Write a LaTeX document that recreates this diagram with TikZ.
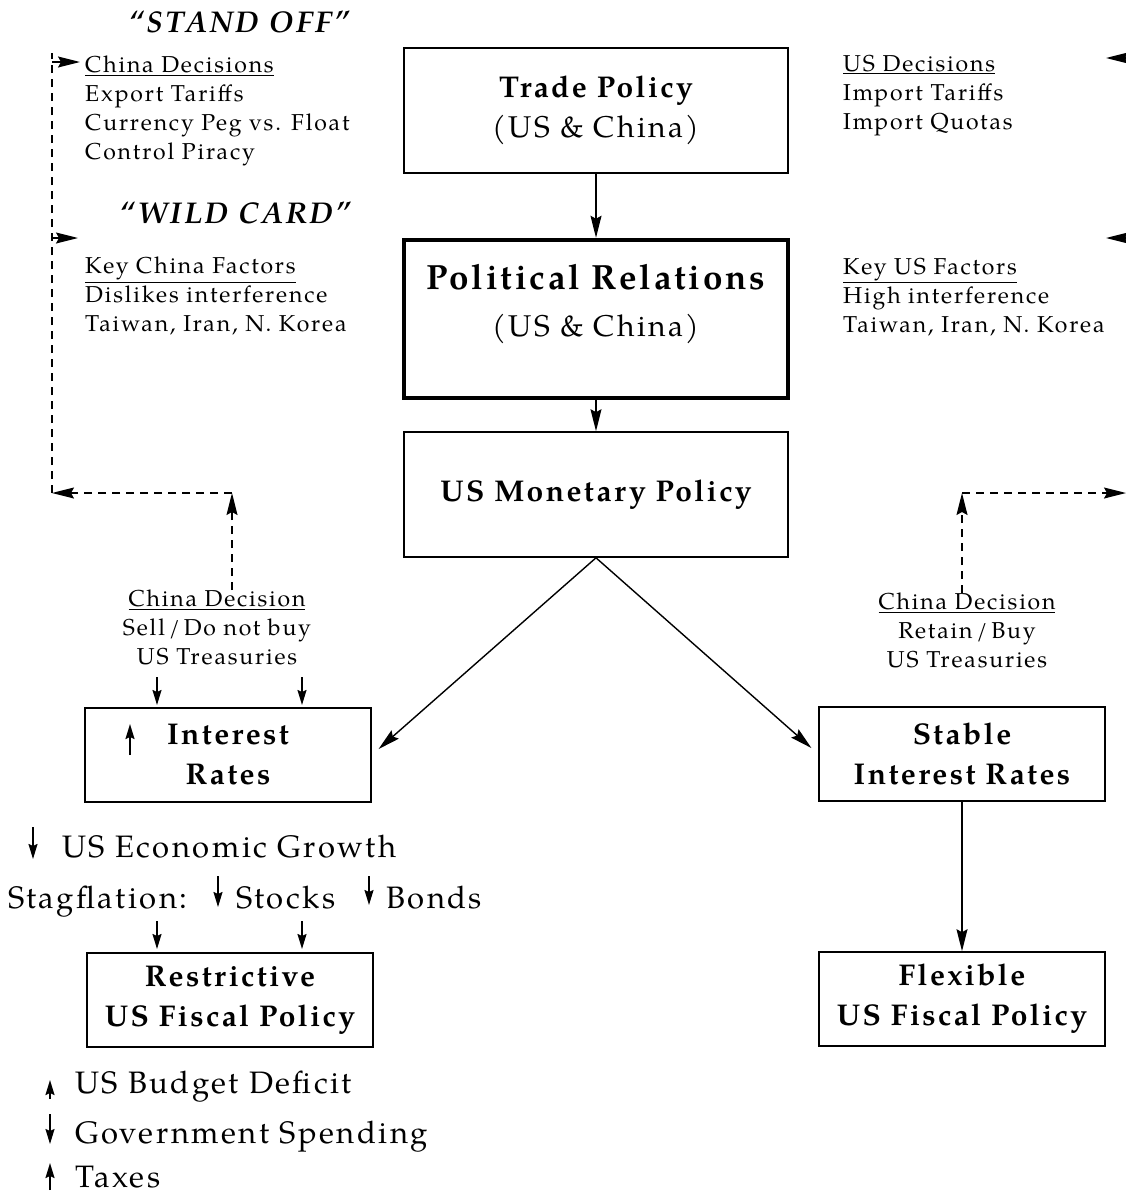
\documentclass[tikz,border=0pt]{standalone}
\usepackage{fontspec}
\setmainfont{TeX Gyre Pagella}[LetterSpace=8]
\usepackage{tikz}
\usetikzlibrary{positioning,arrows.meta,calc}

\newcommand{\sidefont}{\fontsize{23}{29}\selectfont}
\newcommand{\boxfont}{\fontsize{30}{40}\selectfont\bfseries}
\newcommand{\notefont}{\fontsize{31}{36}\selectfont}
\newcommand{\titlefont}{\fontsize{30}{34}\selectfont\bfseries\itshape}

\begin{document}
\begin{tikzpicture}[x=1pt, y=-1pt,
        bigbox/.style={draw, line width=1.6pt, align=center, minimum width=384pt, minimum height=125pt, inner sep=0pt, font=\boxfont},
        smallbox/.style={bigbox, minimum width=286pt, minimum height=94pt},
        side/.style={align=left, inner sep=0pt, anchor=north west, font=\sidefont},
        dec/.style={align=center, inner sep=0pt, anchor=north, font=\sidefont},
        note/.style={inner sep=0pt, anchor=base west, font=\notefont},
        title/.style={inner sep=0pt, anchor=base, font=\titlefont},
        conn/.style={-{Stealth[length=22pt,width=11pt,inset=3pt]}, line width=1.4pt},
        dashline/.style={line width=1.4pt, dash pattern=on 8pt off 6pt},
        dashconn/.style={conn, dash pattern=on 8pt off 6pt},
        updn/.style={-{Stealth[length=15pt,width=9pt,inset=2pt]}, line width=1.6pt}
    ]
    \useasboundingbox (0,0) rectangle (1126,1194);

    \node[bigbox] (tp) at (596,110.5) {Trade Policy\\{\mdseries (US \& China)}};
    \node[bigbox, line width=4.5pt, minimum height=158pt, text depth=38pt] (pr) at (596,319) {{\fontsize{35}{40}\selectfont Political Relations}\\[7pt]{\mdseries (US \& China)}};
    \node[bigbox] (mp) at (596,494.5) {US Monetary Policy};

    \node[smallbox] (ir) at (228,755) {Interest\\Rates};
    \node[smallbox] (sir) at (962,754) {Stable\\Interest Rates};
    \node[smallbox] (rfp) at (230,1000) {Restrictive\\US Fiscal Policy};
    \node[smallbox] (ffp) at (962,999) {Flexible\\US Fiscal Policy};

    \node[title] (so) at (239,32) {“STAND OFF”};
    \node[title] (wc) at (235,223) {“WILD CARD”};

    \node[side] (cdec) at (85,56) {\underline{China Decisions}\\Export Tariffs\\Currency Peg vs. Float\\Control Piracy};
    \node[side] (cfac) at (85,257) {\underline{Key China Factors}\\Dislikes interference\\Taiwan, Iran, N. Korea};
    \node[side] (udec) at (843,55) {\underline{US Decisions}\\Import Tariffs\\Import Quotas};
    \node[side] (ufac) at (843,258) {\underline{Key US Factors}\\High interference\\Taiwan, Iran, N. Korea};

    \node[dec] (cdl) at (217,590) {\underline{China Decision}\\Sell\,/\,Do not buy\\US Treasuries};
    \node[dec] (cdr) at (967,593) {\underline{China Decision}\\Retain\,/\,Buy\\US Treasuries};

    \node[note] (grow) at (62,857) {US Economic Growth};
    \node[note] (stag) at (8,908) {Stagflation:};
    \node[note] (stk) at (236,908) {Stocks};
    \node[note] (bnd) at (386,908) {Bonds};
    \node[note] (def) at (75,1093) {US Budget Deficit};
    \node[note] (gov) at (75,1143) {Government Spending};
    \node[note] (tax) at (75,1187) {Taxes};

    \coordinate (lcorner) at (232,493);
    \coordinate (lbend) at (52,493);
    \coordinate (ltop) at (52,53);
    \coordinate (la) at (52,62);
    \coordinate (lb) at (52,238);
    \coordinate (rcorner) at (962,493);
    \coordinate (rend) at (1126,493);
    \coordinate (ra) at (1126,58);
    \coordinate (rb) at (1126,238);

    \draw[conn] (tp) -- (pr);
    \draw[conn] (pr) -- (mp);
    \draw[conn, shorten >=9pt] (mp.south) -- (ir.east);
    \draw[conn, shorten >=9pt] (mp.south) -- (sir.west);
    \draw[conn] (sir) -- (ffp);

    \draw[dashconn] (cdl.north -| lcorner) -- (lcorner);
    \draw[dashconn] (lcorner) -- (lbend);
    \draw[dashline] (lbend) -- (ltop);
    \draw[conn] (la) -- ++(28,0);
    \draw[conn] (lb) -- ++(26,0);
    \draw[dashconn] (cdr.north -| rcorner) -- (rcorner);
    \draw[dashconn] (rcorner) -- (rend);
    \draw[conn] (ra) -- ++(-20,0);
    \draw[conn] (rb) -- ++(-20,0);

    \draw[updn] (130,755) -- (130,724);
    \draw[updn] (157,677) -- (157,705);
    \draw[updn] (302,677) -- (302,705);
    \draw[updn] (33,827) -- (33,859);
    \draw[updn] (218,876) -- (218,907);
    \draw[updn] (369,876) -- (369,905);
    \draw[updn] (157,921) -- (157,949);
    \draw[updn] (302,921) -- (302,949);
    \draw[updn] (50,1099) -- (50,1080);
    \draw[updn] (50,1114) -- (50,1144);
    \draw[updn] (50,1190) -- (50,1163);
\end{tikzpicture}
\end{document}
